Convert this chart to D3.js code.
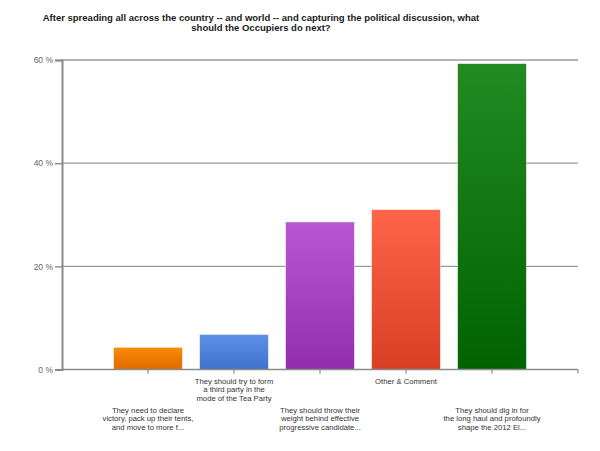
<!DOCTYPE html>
<html>
<head>
<meta charset="utf-8">
<script src="https://cdn.jsdelivr.net/npm/d3@7"></script>
<style>
  body { margin: 0; background: #fff; }
  text { font-family: "Liberation Sans", Arial, sans-serif; }
</style>
</head>
<body>
<div id="chart"></div>
<script>
const titleLines = [
  'After spreading all across the country -- and world -- and capturing the political discussion, what',
  'should the Occupiers do next?'
];

const answers = [
  ['They need to declare', 'victory, pack up their tents,', 'and move to more f...'],
  ['They should try to form', 'a third party in the', 'mode of the Tea Party'],
  ['They should throw their', 'weight behind effective', 'progressive candidate...'],
  ['Other & Comment'],
  ['They should dig in for', 'the long haul and profoundly', 'shape the 2012 El...']
];
const percents = [4.3, 6.8, 28.6, 31.0, 59.3];
const topColors = ['#f88c05', '#5d90e6', '#b857d3', '#ff6548', '#238a22'];
const bottomColors = ['#e06a00', '#3e71cb', '#922eae', '#d83f23', '#006300'];
const yTicks = [0, 20, 40, 60];

const width = 600, height = 451;
const margin = {top: 60, right: 22, bottom: 81.5, left: 62};

const svg = d3.select('#chart').append('svg')
    .attr('width', width)
    .attr('height', height);

const defs = svg.append('defs');
percents.forEach((p, i) => {
  const grad = defs.append('linearGradient')
      .attr('id', 'grad' + i)
      .attr('x1', 0).attr('y1', 0).attr('x2', 0).attr('y2', 1);
  grad.append('stop').attr('offset', '0%').attr('stop-color', topColors[i]);
  grad.append('stop').attr('offset', '100%').attr('stop-color', bottomColors[i]);
});

// title
svg.append('text')
    .attr('x', 261)
    .attr('y', 21)
    .attr('text-anchor', 'middle')
    .attr('font-size', 9.5)
    .attr('font-weight', 'bold')
    .attr('fill', '#1a1a1a')
  .selectAll('tspan')
  .data(titleLines)
  .join('tspan')
    .attr('x', 261)
    .attr('dy', (d, i) => i === 0 ? 0 : 9.5)
    .text(d => d);

const x = d3.scaleBand()
    .domain(d3.range(answers.length))
    .range([margin.left, width - margin.right])
    .paddingInner(0.2)
    .paddingOuter(0.6);

const y = d3.scaleLinear()
    .domain([0, 60])
    .range([height - margin.bottom, margin.top]);

// gridlines
svg.append('g')
  .selectAll('line')
  .data(yTicks.filter(d => d > 0))
  .join('line')
    .attr('x1', margin.left)
    .attr('x2', width - margin.right)
    .attr('y1', d => y(d))
    .attr('y2', d => y(d))
    .attr('stroke', '#9a9a9a')
    .attr('stroke-width', 1.4);

// y axis
const yAxis = svg.append('g')
    .attr('transform', `translate(${margin.left},0)`)
    .call(d3.axisLeft(y).tickValues(yTicks).tickFormat(d => d + ' %').tickSize(7).tickPadding(2));
yAxis.select('.domain').attr('stroke', '#8a8a8a').attr('stroke-width', 2);
yAxis.selectAll('.tick line').attr('stroke', '#8a8a8a').attr('stroke-width', 1.4);
yAxis.selectAll('.tick text')
    .attr('font-size', 8.5)
    .attr('fill', '#666')
    .attr('font-family', '"Liberation Sans", Arial, sans-serif');

// bars
svg.append('g')
  .selectAll('rect')
  .data(percents)
  .join('rect')
    .attr('x', (d, i) => x(i))
    .attr('y', d => y(d))
    .attr('width', x.bandwidth())
    .attr('height', d => y(0) - y(d))
    .attr('fill', (d, i) => `url(#grad${i})`)
    .attr('stroke', 'rgba(255,255,255,0.6)')
    .attr('stroke-width', 0.8);

// x axis baseline and ticks
const x0 = y(0);
svg.append('line')
    .attr('x1', margin.left)
    .attr('x2', width - margin.right)
    .attr('y1', x0)
    .attr('y2', x0)
    .attr('stroke', '#8a8a8a')
    .attr('stroke-width', 1.6);

const tickXs = answers.map((d, i) => x(i) + x.bandwidth() / 2).concat([width - margin.right]);
svg.append('g')
  .selectAll('line')
  .data(tickXs)
  .join('line')
    .attr('x1', d => d)
    .attr('x2', d => d)
    .attr('y1', x0)
    .attr('y2', x0 + 4)
    .attr('stroke', '#8a8a8a')
    .attr('stroke-width', 1.2);

// category labels, staggered
const labels = svg.append('g')
  .selectAll('text')
  .data(answers)
  .join('text')
    .attr('text-anchor', 'middle')
    .attr('font-size', 7.7)
    .attr('fill', '#333')
    .attr('y', (d, i) => i % 2 === 1 ? 383.5 : 412.5);

labels.selectAll('tspan')
  .data((d, i) => d.map(t => ({t, i})))
  .join('tspan')
    .attr('x', d => x(d.i) + x.bandwidth() / 2)
    .attr('dy', (d, j) => j === 0 ? 0 : 8.6)
    .text(d => d.t);
</script>
</body>
</html>
